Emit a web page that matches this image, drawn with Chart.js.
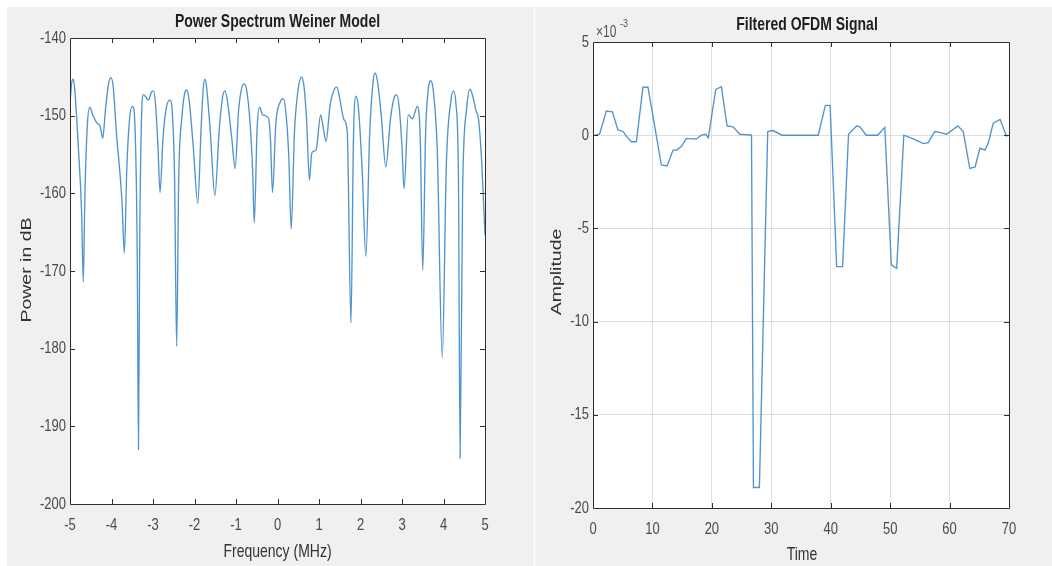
<!DOCTYPE html>
<html><head><meta charset="utf-8">
<script src="https://cdn.jsdelivr.net/npm/chart.js@4.4.1/dist/chart.umd.min.js"></script>
<style>
html,body{margin:0;padding:0;background:#fff;width:1052px;height:566px;overflow:hidden}
.panel{position:absolute;top:7px;background:#f0f0f0}
#p1{left:7px;width:527px;height:559px}
#p2{left:535px;width:517px;height:559px}
canvas{display:block}
</style></head><body>
<div class="panel" id="p1"><canvas id="c1" width="527" height="559"></canvas></div>
<div class="panel" id="p2"><canvas id="c2" width="517" height="559"></canvas></div>
<script>
// ---- Data: Power Spectrum Weiner Model ----
const freqMHz = [-5.00,-4.96,-4.92,-4.88,-4.80,-4.72,-4.68,-4.64,-4.58,-4.52,-4.46,-4.36,-4.28,-4.21,-4.15,-4.08,-4.02,-3.96,-3.88,-3.75,-3.69,-3.63,-3.55,-3.49,-3.43,-3.38,-3.35,-3.32,-3.28,-3.23,-3.17,-3.11,-3.04,-2.99,-2.94,-2.88,-2.83,-2.76,-2.68,-2.59,-2.53,-2.48,-2.43,-2.38,-2.30,-2.24,-2.19,-2.13,-2.03,-1.92,-1.84,-1.79,-1.75,-1.71,-1.62,-1.51,-1.40,-1.32,-1.27,-1.21,-1.10,-1.02,-0.94,-0.86,-0.80,-0.74,-0.66,-0.60,-0.56,-0.49,-0.43,-0.36,-0.22,-0.17,-0.12,-0.04,0.06,0.14,0.20,0.27,0.33,0.41,0.50,0.58,0.64,0.70,0.77,0.82,0.86,0.93,1.04,1.10,1.17,1.27,1.37,1.43,1.50,1.60,1.68,1.77,1.83,1.89,1.95,2.04,2.13,2.22,2.30,2.35,2.41,2.50,2.61,2.72,2.81,2.87,2.93,3.00,3.05,3.15,3.25,3.37,3.44,3.50,3.57,3.64,3.69,3.75,3.85,3.97,4.07,4.18,4.24,4.30,4.36,4.40,4.46,4.56,4.64,4.71,4.79,4.84,4.91,5.00];
const powerDb = [-148.5,-145.8,-145.3,-147.0,-154.0,-162.5,-171.4,-160.0,-151.0,-148.9,-149.8,-150.9,-151.3,-152.9,-149.5,-146.2,-145.1,-146.2,-152.3,-160.8,-167.7,-156.6,-149.7,-148.8,-152.0,-168.0,-193.0,-166.0,-151.0,-147.3,-147.6,-148.0,-147.0,-146.8,-148.5,-154.0,-159.9,-153.0,-149.0,-148.0,-150.0,-158.0,-179.7,-158.0,-150.0,-147.2,-146.7,-148.0,-154.0,-161.3,-151.5,-146.5,-145.3,-146.3,-152.0,-160.3,-151.5,-147.5,-146.8,-148.0,-153.0,-156.8,-149.5,-146.4,-145.9,-146.8,-151.0,-157.0,-163.8,-151.5,-148.9,-149.9,-150.3,-153.0,-159.9,-151.0,-148.3,-147.8,-149.5,-155.0,-164.6,-152.0,-146.5,-145.0,-146.3,-150.5,-158.3,-155.0,-154.6,-154.4,-149.9,-151.5,-153.3,-148.5,-146.6,-146.3,-147.8,-150.5,-152.0,-176.7,-153.0,-147.5,-149.0,-157.0,-168.1,-152.5,-145.8,-144.5,-145.6,-150.0,-156.6,-150.5,-147.7,-147.3,-148.8,-154.0,-159.4,-149.9,-150.4,-148.8,-153.0,-169.9,-152.0,-146.3,-145.5,-146.6,-154.5,-181.2,-156.0,-148.0,-146.8,-148.5,-158.0,-194.1,-160.0,-149.0,-146.6,-147.6,-149.5,-150.3,-155.0,-165.4];
const specXTicks = [-5,-4,-3,-2,-1,0,1,2,3,4,5];
const specYTicks = [-200,-190,-180,-170,-160,-150,-140];

// ---- Data: Filtered OFDM Signal (amplitude in units of 10^-3) ----
const timeIdx = [0.3,1.1,2.25,3.26,4.2,5.07,5.6,6.46,7.3,8.4,9.25,10.4,11.5,12.46,13.47,14.1,14.9,15.7,16.6,17.4,18.25,19.0,19.4,20.65,21.6,22.56,23.57,24.7,26.67,27.0,28.0,29.4,30.3,31.8,37.9,39.1,39.9,41.0,42.0,43.0,44.4,44.9,45.97,47.9,49.1,50.2,51.1,52.3,53.9,55.6,56.4,57.5,58.3,59.5,61.4,62.3,63.4,64.3,65.1,65.96,66.5,67.35,68.5,69.6];
const amplitudeE3 = [0.0,0.05,1.3,1.25,0.28,0.2,-0.05,-0.35,-0.35,2.57,2.57,0.45,-1.6,-1.65,-0.8,-0.8,-0.6,-0.17,-0.2,-0.2,0.0,0.05,-0.15,2.46,2.6,0.5,0.45,0.05,0.0,-18.9,-18.9,0.2,0.25,0.0,0.0,1.6,1.6,-7.05,-7.05,0.05,0.5,0.45,0.0,0.0,0.42,-6.96,-7.14,0.0,-0.2,-0.45,-0.4,0.2,0.15,0.05,0.5,0.2,-1.78,-1.7,-0.7,-0.8,-0.43,0.64,0.85,-0.08];
const ofdmXTicks = [0,10,20,30,40,50,60,70];
const ofdmYTicks = [-20,-15,-10,-5,0,5];

const FONT = "'Liberation Sans', Arial, sans-serif";
const LINE = 'rgba(62,136,198,0.9)';

function txt(ctx, s, x, y, o) {
  ctx.save();
  ctx.font = (o.weight || 'normal') + ' ' + o.size + 'px ' + FONT;
  ctx.fillStyle = o.color || '#333';
  ctx.textAlign = o.align || 'center';
  ctx.textBaseline = o.base || 'middle';
  ctx.translate(x, y);
  ctx.scale(1, o.sy || 1.3);
  if (o.rot) ctx.rotate(o.rot);
  ctx.fillText(s, 0, 0);
  ctx.restore();
}

const matlabAxes = {
  id: 'matlabAxes',
  beforeDraw(chart) {
    const a = chart.chartArea, ctx = chart.ctx;
    ctx.save();
    ctx.fillStyle = '#ffffff';
    ctx.fillRect(a.left, a.top, a.right - a.left, a.bottom - a.top);
    ctx.restore();
  },
  afterDraw(chart, args, o) {
    const a = chart.chartArea, ctx = chart.ctx;
    const xs = chart.scales.x, ys = chart.scales.y;
    ctx.save();
    ctx.strokeStyle = '#2e2e2e';
    ctx.lineWidth = 1;
    ctx.beginPath();
    ctx.rect(Math.round(a.left) + 0.5, Math.round(a.top) + 0.5, Math.round(a.right - a.left), Math.round(a.bottom - a.top));
    ctx.stroke();
    ctx.beginPath();
    xs.ticks.forEach(t => {
      if (t.value === xs.min || t.value === xs.max) return;
      const p = Math.round(xs.getPixelForValue(t.value)) + 0.5;
      ctx.moveTo(p, a.bottom); ctx.lineTo(p, a.bottom - 5);
      ctx.moveTo(p, a.top); ctx.lineTo(p, a.top + 5);
    });
    ys.ticks.forEach(t => {
      if (t.value === ys.min || t.value === ys.max) return;
      const p = Math.round(ys.getPixelForValue(t.value)) + 0.5;
      ctx.moveTo(a.left, p); ctx.lineTo(a.left + 5, p);
      ctx.moveTo(a.right, p); ctx.lineTo(a.right - 5, p);
    });
    ctx.stroke();
    ctx.restore();
    xs.ticks.forEach(t => {
      txt(ctx, String(t.value), xs.getPixelForValue(t.value), a.bottom + 21, {size: 13, color: '#4a4a4a'});
    });
    ys.ticks.forEach(t => {
      txt(ctx, String(t.value), a.left - 4, ys.getPixelForValue(t.value), {size: 13, color: '#4a4a4a', align: 'right'});
    });
    const cx = (a.left + a.right) / 2;
    txt(ctx, o.title, cx + o.titleDx, a.top - o.titleUp, {size: 14, weight: 'bold', color: '#1e1e1e'});
    txt(ctx, o.xTitle, cx + o.xTitleDx, a.bottom + o.xTitleDown, {size: 14, color: '#333'});
    txt(ctx, o.yTitle, o.yTitleX, o.yTitleY, {size: 15, color: '#333', rot: -Math.PI / 2});
    if (o.exponent) {
      txt(ctx, '\u00d710', a.left + 3, a.top - 5, {size: 12, color: '#555', align: 'left', base: 'alphabetic'});
      txt(ctx, '-3', a.left + 27, a.top - 15, {size: 9, color: '#555', align: 'left', base: 'alphabetic'});
    }
  }
};

function makeChart(id, xv, yv, xTicks, yTicks, cfg) {
  const pts = xv.map((x, i) => ({x: x, y: yv[i]}));
  const ds = {data: pts, borderColor: LINE, borderWidth: 1.35, pointRadius: 0, fill: false};
  if (cfg.smooth) { ds.cubicInterpolationMode = 'monotone'; } else { ds.tension = 0; }
  return new Chart(document.getElementById(id), {
    type: 'line',
    data: {datasets: [ds]},
    options: {
      responsive: false,
      animation: false,
      events: [],
      layout: {padding: {top: cfg.padTop, right: cfg.padRight, left: 0, bottom: 0}},
      plugins: {legend: {display: false}, tooltip: {enabled: false}, title: {display: false},
        matlabAxes: cfg.labels},
      scales: {
        x: {type: 'linear', min: xTicks[0], max: xTicks[xTicks.length - 1],
          afterBuildTicks: s => { s.ticks = xTicks.map(v => ({value: v})); },
          afterFit: s => { s.height = cfg.xH; },
          ticks: {display: false},
          grid: {display: cfg.grid, color: '#dedede', lineWidth: 1, drawTicks: false},
          border: {display: false}},
        y: {type: 'linear', min: yTicks[0], max: yTicks[yTicks.length - 1],
          afterBuildTicks: s => { s.ticks = yTicks.map(v => ({value: v})); },
          afterFit: s => { s.width = cfg.yW; },
          ticks: {display: false},
          grid: {display: cfg.grid, color: '#dedede', lineWidth: 1, drawTicks: false},
          border: {display: false}}
      }
    },
    plugins: [matlabAxes]
  });
}

makeChart('c1', freqMHz, powerDb, specXTicks, specYTicks, {
  padTop: 31, padRight: 49, xH: 62, yW: 63, grid: false, smooth: true,
  labels: {title: 'Power Spectrum Weiner Model', titleDx: 0, titleUp: 16.5,
    xTitle: 'Frequency (MHz)', xTitleDx: 0, xTitleDown: 48,
    yTitle: 'Power in dB', yTitleX: 20, yTitleY: 263, exponent: false}
});
makeChart('c2', timeIdx, amplitudeE3, ofdmXTicks, ofdmYTicks, {
  padTop: 35, padRight: 43, xH: 58, yW: 58, grid: true, smooth: false,
  labels: {title: 'Filtered OFDM Signal', titleDx: 6, titleUp: 17,
    xTitle: 'Time', xTitleDx: 1, xTitleDown: 47,
    yTitle: 'Amplitude', yTitleX: 22, yTitleY: 265, exponent: true}
});
</script>
</body></html>
